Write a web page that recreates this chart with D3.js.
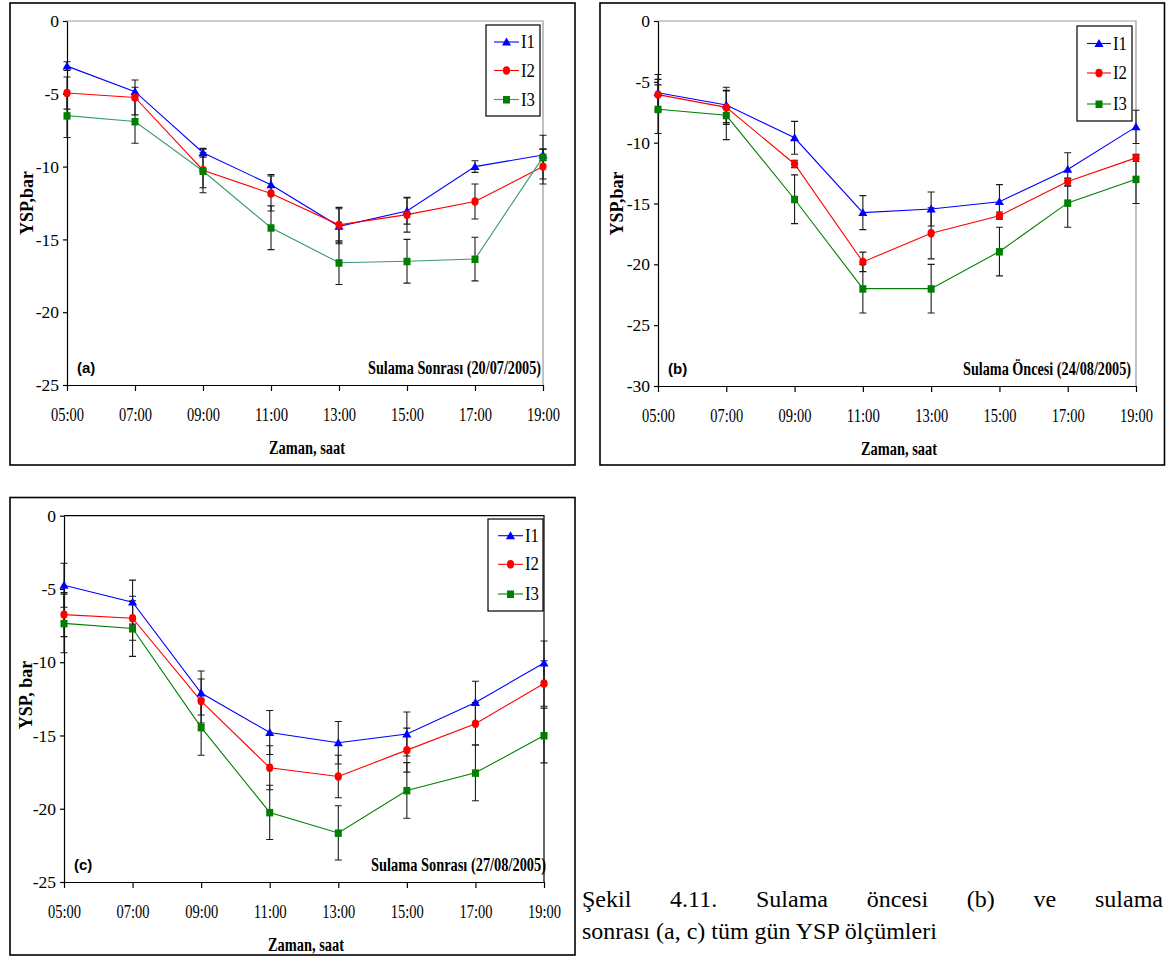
<!DOCTYPE html>
<html><head><meta charset="utf-8">
<script src="https://cdn.jsdelivr.net/npm/d3@7"></script>
<style>
body{margin:0;background:#fff}
svg{display:block}
.sf{font-family:"Liberation Serif","Times New Roman","DejaVu Serif",serif}
.ss{font-family:"Liberation Sans",Arial,sans-serif}
</style></head><body>
<svg id="fig" width="1169" height="959"></svg>
<script>
// saat kategorileri
const hours = ["05:00","07:00","09:00","11:00","13:00","15:00","17:00","19:00"];
const seriesNames = ["I1","I2","I3"];

// (a) Sulama Sonrası 20/07/2005
const a_I1 = [-3.1, -4.85, -9.05, -11.25, -14.1, -13.05, -10.0, -9.2];
const a_I2 = [-4.95, -5.25, -10.25, -11.85, -14.0, -13.3, -12.4, -10.0];
const a_I3 = [-6.5, -6.9, -10.3, -14.2, -16.6, -16.5, -16.35, -9.35];
const a_I1err = [0.3, 0.3, 0.3, 0.7, 1.2, 0.9, 0.4, 0.4];
const a_I2err = [1.1, 1.2, 1.2, 1.2, 1.2, 1.2, 1.2, 1.2];
const a_I3err = [1.5, 1.5, 1.5, 1.5, 1.5, 1.5, 1.5, 1.5];

// (b) Sulama Öncesi 24/08/2005
const b_I1 = [-5.9, -6.9, -9.6, -15.75, -15.45, -14.85, -12.2, -8.7];
const b_I2 = [-6.05, -7.1, -11.75, -19.8, -17.45, -16.0, -13.2, -11.25];
const b_I3 = [-7.25, -7.75, -14.65, -22.0, -22.0, -18.95, -14.95, -13.0];
const b_I1err = [1.5, 1.45, 1.35, 1.4, 1.4, 1.4, 1.37, 1.37];
const b_I2err = [1.25, 1.4, 0.3, 0.8, 2.1, 0.3, 0.3, 0.3];
const b_I3err = [2, 2, 2, 2, 2, 2, 2, 2];

// (c) Sulama Sonrası 27/08/2005
const c_I1 = [-4.75, -5.9, -12.1, -14.8, -15.5, -14.9, -12.75, -10.05];
const c_I2 = [-6.75, -7.0, -12.65, -17.2, -17.8, -16.0, -14.2, -11.45];
const c_I3 = [-7.35, -7.7, -14.45, -20.25, -21.65, -18.75, -17.55, -15.0];
const c_I1err = [1.5, 1.5, 1.5, 1.5, 1.45, 1.5, 1.45, 1.5];
const c_I2err = [1.5, 1.5, 1.5, 1.5, 1.45, 1.5, 1.45, 1.55];
const c_I3err = [2.0, 1.9, 1.9, 1.85, 1.85, 1.9, 1.9, 1.87];

const svg = d3.select("#fig");

function drawMarker(g, kind, cx, cy, color){
    if (kind == 0) {
        g.append("path").attr("d", d3.symbol().type(d3.symbolTriangle).size(36)())
            .attr("transform", `translate(${cx},${cy+0.8})`).attr("fill", color);
    } else if (kind == 1) {
        g.append("ellipse").attr("cx", cx).attr("cy", cy).attr("rx", 3.6).attr("ry", 4.2).attr("fill", color);
    } else {
        g.append("rect").attr("x", cx-3.5).attr("y", cy-3.5).attr("width", 7).attr("height", 7.5).attr("fill", color);
    }
}

function drawPanel(p){
    const g = svg.append("g");
    // dış çerçeve
    g.append("rect")
        .attr("x", p.frame[0]).attr("y", p.frame[1])
        .attr("width", p.frame[2]-p.frame[0]).attr("height", p.frame[3]-p.frame[1])
        .attr("fill", "none").attr("stroke", "#000").attr("stroke-width", 1.6);

    const x = d3.scalePoint().domain(hours).range([p.x0, p.x1]);
    const y = d3.scaleLinear().domain([p.ymin, 0]).range([p.y1, p.y0]);

    // grafik alanı üst/sağ kenar
    g.append("path").attr("d", `M${p.x0},${p.y0}H${p.x1}V${p.y1}`)
        .attr("fill", "none").attr("stroke", p.border).attr("stroke-width", 1.2);

    const yAx = g.append("g").attr("transform", `translate(${p.x0},0)`)
        .call(d3.axisLeft(y).tickValues(d3.range(p.ymin, 1, 5)).tickFormat(d => String(d))
            .tickSize(4).tickSizeOuter(0).tickPadding(4));
    yAx.attr("font-family", null).attr("font-size", 17.5).attr("class", "sf");
    yAx.selectAll("line,path").attr("stroke", "#000").attr("stroke-width", 1.2);
    yAx.selectAll("text").attr("fill", "#000");

    const xAx = g.append("g").attr("transform", `translate(0,${p.y1})`)
        .call(d3.axisBottom(x).tickSize(6).tickSizeOuter(0).tickPadding(17));
    xAx.attr("font-family", null).attr("font-size", 18).attr("class", "sf");
    xAx.selectAll("line,path").attr("stroke", "#000").attr("stroke-width", 1.2);
    xAx.selectAll("text").attr("fill", "#000").attr("textLength", 33).attr("lengthAdjust", "spacingAndGlyphs");

    const line = d3.line().x((d,i) => x(hours[i])).y(d => y(d));

    // çizgiler
    p.series.forEach((s, k) => {
        g.append("path").datum(s.vals).attr("d", line)
            .attr("fill", "none").attr("stroke", s.lineColor).attr("stroke-width", 1.1);
    });
    // hata çubukları
    p.series.forEach((s, k) => {
        s.vals.forEach((v, i) => {
            const cx = x(hours[i]), e = s.err[i];
            const t = y(v + e), b = y(v - e);
            g.append("path").attr("d", `M${cx},${t}V${b}M${cx-3.5},${t}H${cx+3.5}M${cx-3.5},${b}H${cx+3.5}`)
                .attr("fill", "none").attr("stroke", "#1a1a1a").attr("stroke-width", 1.1);
        });
    });
    // işaretler
    p.series.forEach((s, k) => {
        s.vals.forEach((v, i) => drawMarker(g, k, x(hours[i]), y(v), s.color));
    });

    // eksen başlıkları
    const yMid = (p.y0 + p.y1) / 2;
    g.append("text").attr("class", "sf").attr("transform", `translate(${p.ytX},${p.ytY || yMid}) rotate(-90)`)
        .attr("text-anchor", "middle").attr("font-weight", "bold")
        .attr("font-size", 18).text(p.ytitle);
    g.append("text").attr("class", "sf").attr("x", (p.x0 + p.x1) / 2 + 2).attr("y", p.y1 + 69)
        .attr("text-anchor", "middle").attr("font-weight", "bold")
        .attr("font-size", 18).attr("textLength", 76).attr("lengthAdjust", "spacingAndGlyphs")
        .text("Zaman, saat");

    // panel etiketi ve not
    g.append("text").attr("class", "ss").attr("x", p.x0 + 10).attr("y", p.y1 - 12)
        .attr("font-weight", "bold").attr("font-size", 15).text(p.tag);
    g.append("text").attr("class", "sf").attr("x", p.noteX).attr("y", p.y1 - 11)
        .attr("font-weight", "bold").attr("font-size", 18)
        .attr("textLength", p.noteW).attr("lengthAdjust", "spacingAndGlyphs")
        .text(p.note);

    // lejant
    const L = p.legend;
    g.append("rect").attr("x", L.box[0]).attr("y", L.box[1])
        .attr("width", L.box[2]-L.box[0]).attr("height", L.box[3]-L.box[1])
        .attr("fill", "#fff").attr("stroke", "#000").attr("stroke-width", 1.2);
    p.series.forEach((s, k) => {
        const ly = L.rows[k];
        g.append("line").attr("x1", L.lx[0]).attr("x2", L.lx[1]).attr("y1", ly).attr("y2", ly)
            .attr("stroke", s.lineColor).attr("stroke-width", 1.1);
        drawMarker(g, k, (L.lx[0] + L.lx[1]) / 2, ly, s.color);
        g.append("text").attr("class", "sf").attr("x", L.lx[1] + 2).attr("y", ly + 6)
            .attr("font-size", 18)
            .attr("textLength", 14).attr("lengthAdjust", "spacingAndGlyphs")
            .text(seriesNames[k]);
    });
}

function mkSeries(v1, v2, v3, e1, e2, e3, green){
    return [
        {vals: v1, err: e1, color: "#0000ff", lineColor: "#0000ff"},
        {vals: v2, err: e2, color: "#ff0000", lineColor: "#ff0000"},
        {vals: v3, err: e3, color: "#008000", lineColor: green}
    ];
}

drawPanel({
    frame: [10, 3, 575, 465], x0: 67, x1: 543, y0: 21, y1: 385, ymin: -25,
    border: "#999", ytitle: "YSP,bar", ytX: 33, tag: "(a)",
    note: "Sulama Sonrası (20/07/2005)", noteX: 368, noteW: 173,
    legend: {box: [486, 25, 540, 116], rows: [42, 70.5, 99.5], lx: [494, 519]},
    series: mkSeries(a_I1, a_I2, a_I3, a_I1err, a_I2err, a_I3err, "#3a9a6a")
});
drawPanel({
    frame: [600, 3, 1164.5, 465], x0: 658, x1: 1136, y0: 21, y1: 386, ymin: -30,
    border: "#999", ytitle: "YSP,bar", ytX: 623, tag: "(b)",
    note: "Sulama Öncesi (24/08/2005)", noteX: 963, noteW: 168,
    legend: {box: [1077, 26, 1132, 121], rows: [43.5, 73, 104], lx: [1087, 1111]},
    series: mkSeries(b_I1, b_I2, b_I3, b_I1err, b_I2err, b_I3err, "#008000")
});
drawPanel({
    frame: [10, 497.5, 575, 955], x0: 64, x1: 544, y0: 515.7, y1: 882, ymin: -25,
    border: "#000", ytitle: "YSP, bar", ytX: 32, ytY: 695, tag: "(c)",
    note: "Sulama Sonrası (27/08/2005)", noteX: 371, noteW: 175,
    legend: {box: [488, 519, 543, 611], rows: [535.7, 564.3, 594], lx: [498, 523]},
    series: mkSeries(c_I1, c_I2, c_I3, c_I1err, c_I2err, c_I3err, "#008000")
});

// şekil altyazısı: ilk satır iki yana yaslı
const capLeft = 582, capRight = 1163;
const cap1 = ["Şekil","4.11.","Sulama","öncesi","(b)","ve","sulama"];
const capG = svg.append("g").attr("class", "sf").attr("font-size", 24).attr("fill", "#000");
capG.append("text").attr("x", capLeft).attr("y", 939).text("sonrası (a, c) tüm gün YSP ölçümleri");
const wNodes = cap1.map(w => capG.append("text").attr("y", 907).text(w));
const widths = wNodes.map(n => n.node().getComputedTextLength());
const gap = (capRight - capLeft - d3.sum(widths)) / (cap1.length - 1);
let cx = capLeft;
wNodes.forEach((n, i) => { n.attr("x", cx); cx += widths[i] + gap; });
</script>
</body></html>
